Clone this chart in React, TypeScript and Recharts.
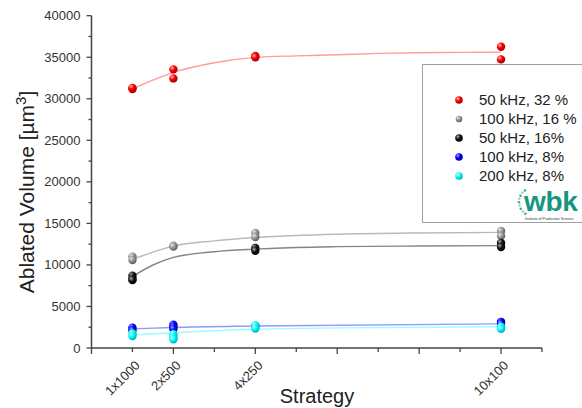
import React from 'react';
import { ComposedChart, XAxis, YAxis, Scatter, Line, Legend } from 'recharts';

// ---------- data ----------
const strategyPositions = [1, 2, 4, 10];
const strategyLabels = ['1x1000', '2x500', '4x250', '10x100'];
const xTicks = [0, 1, 2, 3, 4, 5, 6, 7, 8, 9, 10, 11];
const yTicks = [0, 2500, 5000, 7500, 10000, 12500, 15000, 17500, 20000, 22500, 25000, 27500, 30000, 32500, 35000, 37500, 40000];

const seriesNames = ['50 kHz, 32 %', '100 kHz, 16 %', '50 kHz, 16%', '100 kHz, 8%', '200 kHz, 8%'];
const markerColors = ['#ff0000', '#8c8c8c', '#000000', '#0000ff', '#00ffff'];
const fitColors = ['#ff9c9c', '#b8b8b8', '#858585', '#9696ff', '#96ffff'];

// measured points (x = strategy position)
const red32X = [1, 1, 2, 2, 4, 4, 10, 10];
const red32Y = [31170, 31300, 33540, 32450, 35140, 35000, 36260, 34740];
const gray16X = [1, 1, 2, 2, 4, 4, 10, 10];
const gray16Y = [11000, 10600, 12300, 12200, 13840, 13360, 14080, 13480];
const black16X = [1, 1, 1, 4, 4, 10, 10];
const black16Y = [8700, 8350, 8170, 12030, 11700, 12640, 12150];
const blue8X = [1, 1, 2, 2, 2, 4, 10, 10];
const blue8Y = [2450, 2150, 2800, 2550, 2300, 2650, 3150, 2950];
const cyan8X = [1, 1, 2, 2, 2, 4, 4, 10, 10];
const cyan8Y = [1750, 1450, 1650, 1300, 1050, 2700, 2350, 2550, 2300];

// fitted curves
const redFitX = [1, 1.5, 2, 3, 4, 5, 6, 7, 8, 9, 10];
const redFitY = [31200, 32250, 33170, 34330, 34980, 35170, 35300, 35460, 35540, 35580, 35620];
const grayFitX = [1, 1.5, 2, 3, 4, 5, 6, 8, 10];
const grayFitY = [10650, 11550, 12270, 12900, 13300, 13550, 13700, 13850, 13920];
const blackFitX = [1, 1.5, 2, 3, 4, 5, 6, 8, 10];
const blackFitY = [8600, 9990, 10900, 11590, 11900, 12100, 12200, 12280, 12320];
const blueFitX = [1, 2, 4, 10];
const blueFitY = [2300, 2470, 2650, 2900];
const cyanFitX = [1, 2, 4, 6, 10];
const cyanFitY = [1560, 1840, 2250, 2420, 2560];

const toPts = (xs: number[], ys: number[]) => xs.map((x, i) => ({ x, y: ys[i] }));
const pointSets = [
  toPts(red32X, red32Y),
  toPts(gray16X, gray16Y),
  toPts(black16X, black16Y),
  toPts(blue8X, blue8Y),
  toPts(cyan8X, cyan8Y),
];
const fitSets = [
  toPts(redFitX, redFitY),
  toPts(grayFitX, grayFitY),
  toPts(blackFitX, blackFitY),
  toPts(blueFitX, blueFitY),
  toPts(cyanFitX, cyanFitY),
];

const gradStops = [
  ['#ffc0c0', '#ff0000', '#a00000'],
  ['#e6e6e6', '#9a9a9a', '#5a5a5a'],
  ['#b0b0b0', '#151515', '#000000'],
  ['#a8a8ff', '#0000ff', '#00009a'],
  ['#e0ffff', '#00ffff', '#00aab8'],
];

const logoDotAngles = [125, 139, 153, 167, 181, 195, 209, 223, 237];

const FONT = '"Liberation Sans", Arial, Helvetica, sans-serif';
const AXIS = '#444444';

const XTick = (props: any) => {
  const { x, y, payload } = props;
  const v = payload.value;
  const major = v % 2 === 0;
  const idx = strategyPositions.indexOf(v);
  return (
    <g>
      <line x1={x} y1={y} x2={x} y2={y + (major ? 6 : 4)} stroke={AXIS} strokeWidth={1.3} />
      {idx >= 0 && (
        <text
          x={x + 5}
          y={y + 15}
          textAnchor="end"
          dominantBaseline="central"
          transform={`rotate(-45 ${x + 5} ${y + 15})`}
          fontSize={13}
          fill="#333"
          fontFamily={FONT}
        >
          {strategyLabels[idx]}
        </text>
      )}
    </g>
  );
};

const YTick = (props: any) => {
  const { x, y, payload } = props;
  const v = payload.value;
  const major = v % 5000 === 0;
  return (
    <g>
      <line x1={x} y1={y} x2={x - (major ? 5 : 3)} y2={y} stroke={AXIS} strokeWidth={1.3} />
      {major && (
        <text x={x - 11} y={y} textAnchor="end" dominantBaseline="central" fontSize={13} fill="#333" fontFamily={FONT}>
          {v}
        </text>
      )}
    </g>
  );
};

const Ball = ({ cx, cy, r, i }: any) => <circle cx={cx} cy={cy} r={r} fill={`url(#ball${i})`} />;

const LegendBox = () => (
  <div
    style={{
      position: 'relative',
      width: 170,
      height: 159,
      border: '1.5px solid #a0a0a0',
      background: '#fff',
      fontFamily: FONT,
      boxSizing: 'border-box',
    }}
  >
    {seriesNames.map((n, i) => (
      <div key={n} style={{ position: 'absolute', left: 30, top: 25 + i * 19, height: 19, display: 'flex', alignItems: 'center' }}>
        <svg width={12} height={12} style={{ marginRight: 14 }}>
          <defs>
            <radialGradient id={`lg${i}`} cx="35%" cy="32%" r="70%">
              <stop offset="0%" stopColor={gradStops[i][0]} />
              <stop offset="45%" stopColor={gradStops[i][1]} />
              <stop offset="100%" stopColor={gradStops[i][2]} />
            </radialGradient>
          </defs>
          <circle cx={6} cy={6} r={i === 1 ? 3.3 : 3.8} fill={`url(#lg${i})`} />
        </svg>
        <span style={{ fontSize: 15, color: '#222', whiteSpace: 'nowrap' }}>{n}</span>
      </div>
    ))}
    {/* logo */}
    <svg width={75} height={42} style={{ position: 'absolute', left: 89, top: 117 }}>
      {logoDotAngles.map((deg, k) => {
        const a = (deg * Math.PI) / 180;
        return (
          <circle
            key={k}
            cx={21 + 14 * Math.cos(a)}
            cy={20 - 14 * Math.sin(a)}
            r={1.25}
            fill={k % 2 ? '#8fd6bf' : '#3aa88f'}
          />
        );
      })}
      <text x={12} y={29} fontSize={28} fontWeight="bold" fill="#16957f" fontFamily={FONT} letterSpacing={-0.3}>
        wbk
      </text>
      <text x={13} y={38} fontSize={3.6} fill="#333" fontFamily={FONT}>
        Institute of Production Science
      </text>
    </svg>
  </div>
);

export default function App() {
  return (
    <div style={{ position: 'absolute', left: 0, top: 0, width: 582, height: 408, overflow: 'hidden', background: '#fff' }}>
      <ComposedChart width={582} height={408} margin={{ top: 15.7, right: 40, left: 0, bottom: 0 }} style={{ fontFamily: FONT }}>
        <defs>
          {gradStops.map((g, i) => (
            <radialGradient key={i} id={`ball${i}`} cx="35%" cy="32%" r="70%">
              <stop offset="0%" stopColor={g[0]} />
              <stop offset="45%" stopColor={g[1]} />
              <stop offset="100%" stopColor={g[2]} />
            </radialGradient>
          ))}
        </defs>
        <XAxis
          dataKey="x"
          type="number"
          domain={[0, 11]}
          ticks={xTicks}
          interval={0}
          allowDataOverflow
          height={60}
          tickSize={0}
          tickMargin={0}
          tickLine={false}
          axisLine={{ stroke: AXIS, strokeWidth: 1.5 }}
          tick={<XTick />}
          label={{
            content: () => (
              <text x={317} y={403} textAnchor="middle" fontSize={20} fill="#222" fontFamily={FONT}>
                Strategy
              </text>
            ),
          }}
        />
        <YAxis
          dataKey="y"
          type="number"
          domain={[0, 40000]}
          ticks={yTicks}
          interval={0}
          allowDataOverflow
          width={91.5}
          tickSize={0}
          tickMargin={0}
          tickLine={false}
          axisLine={{ stroke: AXIS, strokeWidth: 1.5 }}
          tick={<YTick />}
          label={{
            content: () => (
              <text x={34} y={192} textAnchor="middle" fontSize={21} fill="#222" fontFamily={FONT} transform="rotate(-90 34 192)">
                Ablated Volume [µm<tspan dy={-8} fontSize={15}>3</tspan><tspan dy={8}>]</tspan>
              </text>
            ),
          }}
        />
        {fitSets.map((d, i) => (
          <Line
            key={`fit${i}`}
            data={d}
            dataKey="y"
            type="monotone"
            stroke={fitColors[i]}
            strokeWidth={1.4}
            dot={false}
            activeDot={false}
            legendType="none"
            isAnimationActive={false}
          />
        ))}
        {pointSets.map((d, i) => (
          <Scatter
            key={`pts${i}`}
            name={seriesNames[i]}
            data={d}
            dataKey="y"
            fill={markerColors[i]}
            shape={(p: any) => <Ball cx={p.cx} cy={p.cy} r={4.2} i={i} />}
            isAnimationActive={false}
          />
        ))}
        <Legend
          layout="vertical"
          align="center"
          verticalAlign="middle"
          content={() => <LegendBox />}
          wrapperStyle={{ position: 'absolute', left: 422, top: 64, width: 170, height: 159 }}
        />
      </ComposedChart>
    </div>
  );
}
